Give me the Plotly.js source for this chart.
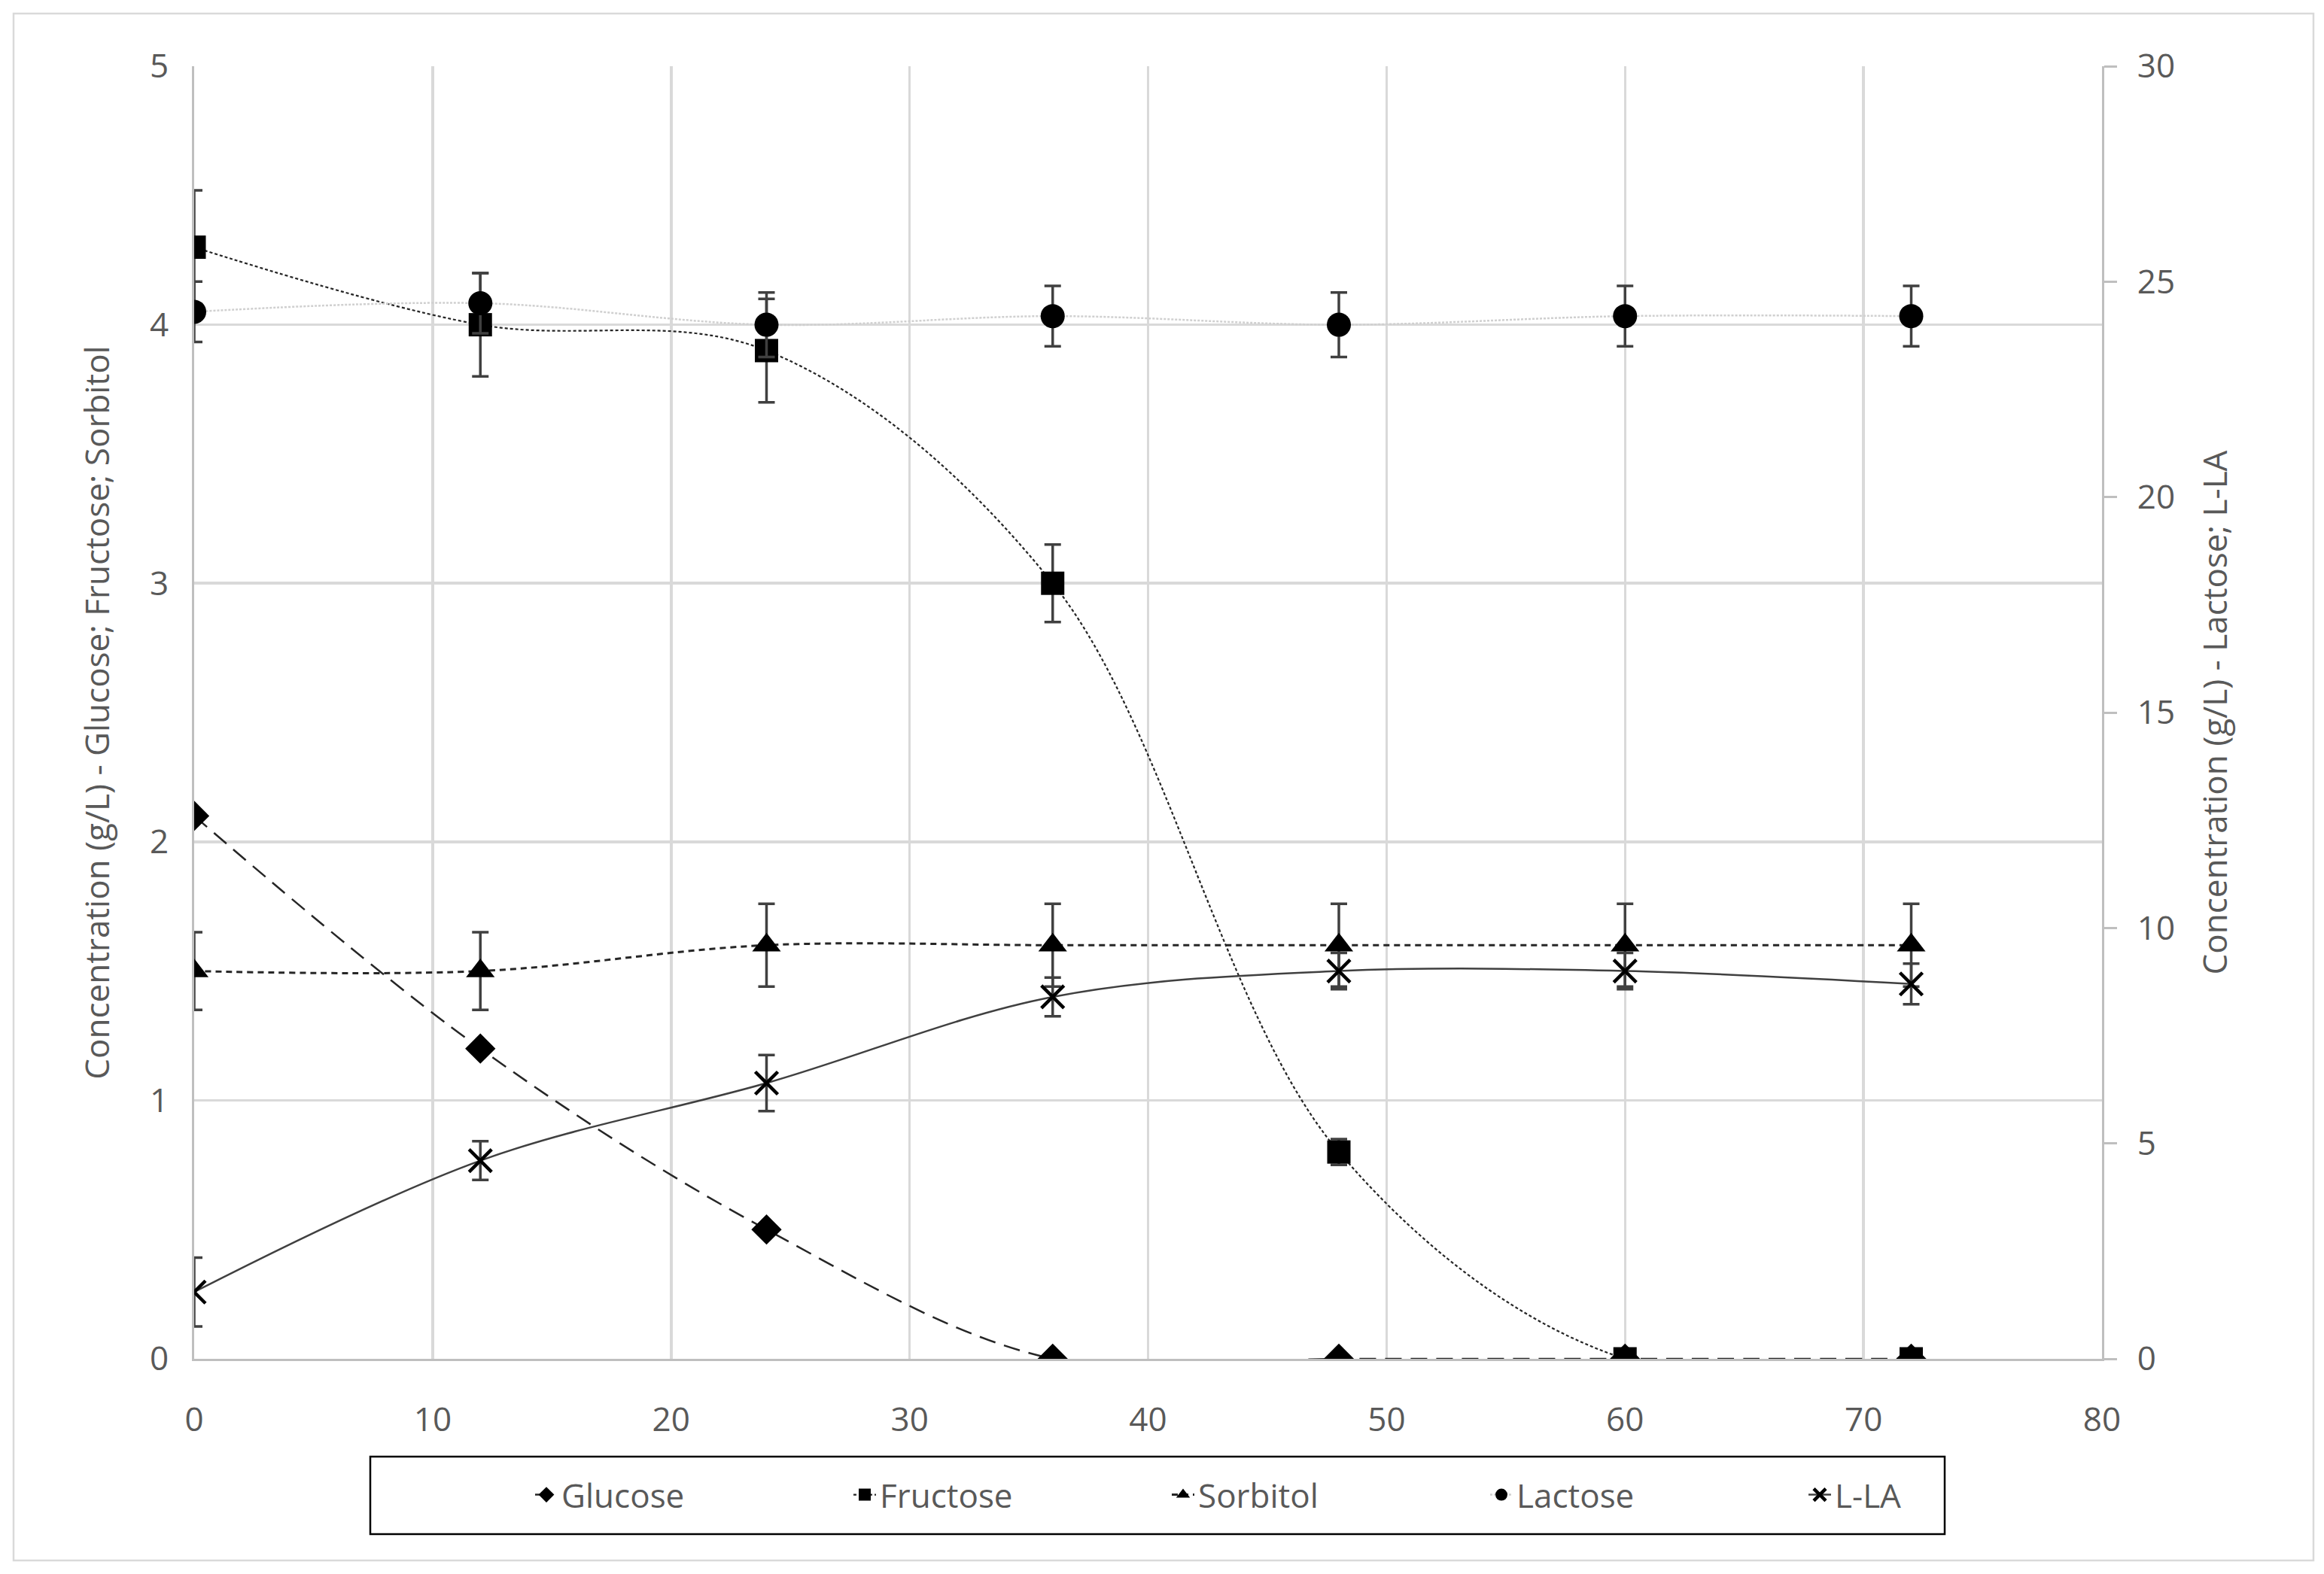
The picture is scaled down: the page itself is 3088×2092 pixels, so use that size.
<!DOCTYPE html>
<html>
<head>
<meta charset="utf-8">
<script src="https://cdn.plot.ly/plotly-3.0.1.min.js"></script>
<style>html,body{margin:0;padding:0;background:#fff;}#chart{width:3088px;height:2092px;}</style>
</head>
<body>
<div id="chart"></div>
<script>
// Time (h)
const time = [0, 12, 24, 36, 48, 60, 72];
// Left axis series (g/L)
const glucose = [2.1, 1.2, 0.5, 0, 0, 0, 0];
const fructose = [4.3, 4.0, 3.9, 3.0, 0.8, 0, 0];
const fructoseErr = [0.22, 0.2, 0.2, 0.15, 0.05, 0, 0];
const sorbitol = [1.5, 1.5, 1.6, 1.6, 1.6, 1.6, 1.6];
const sorbitolErr = [0.15, 0.15, 0.16, 0.16, 0.16, 0.16, 0.16];
// Right axis series (g/L)
const lactose = [24.3, 24.5, 24.0, 24.2, 24.0, 24.2, 24.2];
const lactoseErr = [0.7, 0.7, 0.75, 0.7, 0.75, 0.7, 0.7];
const lla = [1.55, 4.6, 6.4, 8.4, 9.0, 9.0, 8.7];
const llaErr = [0.8, 0.45, 0.65, 0.45, 0.42, 0.42, 0.47];

const seriesNames = ["Glucose", "Fructose", "Sorbitol", "Lactose", "L-LA"];
const leftTitle = "Concentration (g/L) - Glucose; Fructose; Sorbitol";
const rightTitle = "Concentration (g/L) - Lactose; L-LA";

const W = 3088, H = 2092;
const L = 258, R = 2793, T = 88, B = 1806;
const pw = R - L, ph = B - T;
const px = x => (x - L) / pw;
const py = y => (B - y) / ph;

const txt = "#595959";
const fontFam = "'Open Sans', 'Noto Sans', sans-serif";
const errStyle = (arr) => ({type: 'data', array: arr, visible: true, color: '#404040', thickness: 3.5, width: 11});

const traces = [
  {x: time, y: glucose, name: seriesNames[0], type: 'scatter', mode: 'lines+markers',
   line: {color: '#262626', width: 2.5, dash: '22px,12px', shape: 'spline', smoothing: 1},
   marker: {symbol: 'diamond', size: 31, color: '#000'}},
  {x: time, y: fructose, name: seriesNames[1], type: 'scatter', mode: 'lines+markers',
   line: {color: '#262626', width: 2.2, dash: '4px,3px', shape: 'spline', smoothing: 1},
   marker: {symbol: 'square', size: 31, color: '#000'},
   error_y: errStyle(fructoseErr)},
  {x: time, y: sorbitol, name: seriesNames[2], type: 'scatter', mode: 'lines+markers',
   line: {color: '#262626', width: 3, dash: '8px,6px', shape: 'spline', smoothing: 1},
   marker: {symbol: 'triangle-up', size: 33, color: '#000'},
   error_y: errStyle(sorbitolErr)},
  {x: time, y: lactose, name: seriesNames[3], type: 'scatter', mode: 'lines+markers', yaxis: 'y2',
   line: {color: '#d0d0d0', width: 2.5, dash: '3px,2px', shape: 'spline', smoothing: 1},
   marker: {symbol: 'circle', size: 32, color: '#000'},
   error_y: errStyle(lactoseErr)},
  {x: time, y: lla, name: seriesNames[4], type: 'scatter', mode: 'lines+markers', yaxis: 'y2',
   line: {color: '#404040', width: 2.5, shape: 'spline', smoothing: 1},
   marker: {symbol: 'x-thin-open', size: 30, color: '#000', line: {width: 4.5, color: '#000'}},
   error_y: errStyle(llaErr)}
];

const layout = {
  width: W, height: H,
  margin: {l: L, r: W - R, t: T, b: H - B, pad: 0},
  paper_bgcolor: '#fff', plot_bgcolor: '#fff',
  font: {family: fontFam, size: 44, color: txt},
  showlegend: true,
  xaxis: {range: [0, 80], dtick: 10, tick0: 0, showgrid: true, gridcolor: '#d9d9d9', gridwidth: 3.5,
          showline: true, linecolor: '#bfbfbf', linewidth: 3, zeroline: false, ticks: '',
          ticklabelstandoff: 40, tickfont: {size: 44, color: txt}, automargin: false},
  yaxis: {range: [0, 5], dtick: 1, tick0: 0, showgrid: true, gridcolor: '#d9d9d9', gridwidth: 3.5,
          showline: true, linecolor: '#bfbfbf', linewidth: 3, zeroline: false, ticks: '',
          ticklabelstandoff: 22, tickfont: {size: 44, color: txt}, automargin: false,
          title: {text: leftTitle, font: {size: 44, color: txt}, standoff: 40}},
  yaxis2: {range: [0, 30], dtick: 5, tick0: 0, overlaying: 'y', side: 'right', showgrid: false,
           showline: true, linecolor: '#bfbfbf', linewidth: 3, zeroline: false,
           ticks: 'outside', ticklen: 17, tickwidth: 3, tickcolor: '#bfbfbf',
           ticklabelstandoff: 18, tickfont: {size: 44, color: txt}, automargin: false,
           title: {text: rightTitle, font: {size: 44, color: txt}, standoff: 40}},
  legend: {orientation: 'h', x: px(706), xanchor: 'left', y: py(1987), yanchor: 'middle',
           entrywidth: 378, entrywidthmode: 'pixels', bgcolor: 'rgba(0,0,0,0)', borderwidth: 0,
           font: {size: 44, color: txt}, traceorder: 'normal'},
  shapes: [
    {type: 'rect', xref: 'paper', yref: 'paper', x0: px(18), x1: px(3074), y0: py(2074), y1: py(18),
     line: {color: '#d9d9d9', width: 2.5}, fillcolor: 'rgba(0,0,0,0)', layer: 'below'},
    {type: 'rect', xref: 'paper', yref: 'paper', x0: px(492), x1: px(2584), y0: py(2039), y1: py(1936),
     line: {color: '#000', width: 2.5}, fillcolor: 'rgba(0,0,0,0)', layer: 'above'}
  ]
};

Plotly.newPlot('chart', traces, layout, {displayModeBar: false, staticPlot: true});
</script>
</body>
</html>
